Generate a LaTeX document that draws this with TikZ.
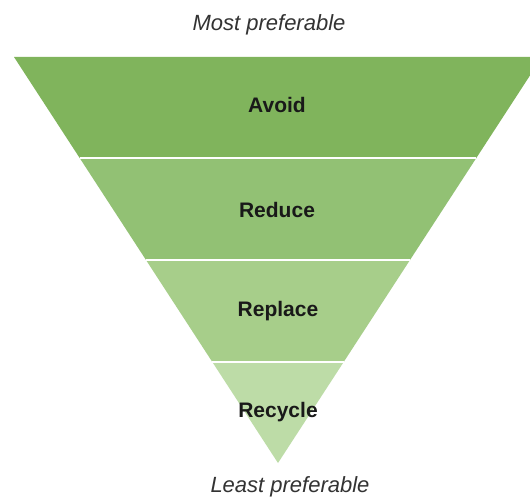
\documentclass[tikz,border=0pt]{standalone}
\usepackage{fontspec}
\setmainfont{Liberation Sans}
\usetikzlibrary{calc}
\definecolor{bandA}{RGB}{128,180,92}
\definecolor{bandB}{RGB}{146,193,116}
\definecolor{bandC}{RGB}{167,206,138}
\definecolor{bandD}{RGB}{189,220,167}
\tikzset{
  bandlabel/.style={font=\fontsize{21}{24}\selectfont\bfseries, text=black!90, inner sep=0pt},
  endlabel/.style={font=\fontsize{22}{26}\selectfont\itshape, text=black!80, inner sep=0pt},
  sepline/.style={draw=white, line width=2pt}
}
\begin{document}
\begin{tikzpicture}[x=1pt,y=-1pt]
\useasboundingbox (0,0) rectangle (530,497);
\clip (0,0) rectangle (530,497);
\fill[white] (0,0) rectangle (530,497);
\coordinate (TL) at (14,57);
\coordinate (TR) at (542,57);
\coordinate (AP) at (278,463);
\coordinate (L1) at ($(TL)!0.25!(AP)$);
\coordinate (R1) at ($(TR)!0.25!(AP)$);
\coordinate (L2) at ($(TL)!0.5!(AP)$);
\coordinate (R2) at ($(TR)!0.5!(AP)$);
\coordinate (L3) at ($(TL)!0.75!(AP)$);
\coordinate (R3) at ($(TR)!0.75!(AP)$);
\fill[bandA] (TL) -- (TR) -- (R1) -- (L1) -- cycle;
\fill[bandB] (L1) -- (R1) -- (R2) -- (L2) -- cycle;
\fill[bandC] (L2) -- (R2) -- (R3) -- (L3) -- cycle;
\fill[bandD] (L3) -- (R3) -- (AP) -- cycle;
\draw[sepline] (L1) -- (R1);
\draw[sepline] (L2) -- (R2);
\draw[sepline] (L3) -- (R3);
\node[bandlabel] (avoid) at (277,105) {Avoid};
\node[bandlabel] (reduce) at (277,210) {Reduce};
\node[bandlabel] (replace) at (278,311) {Replace};
\node[bandlabel] (recycle) at (278,412) {Recycle};
\node[endlabel] (most) at (269,25) {Most preferable};
\node[endlabel] (least) at (290,487) {Least preferable};
\end{tikzpicture}
\end{document}
